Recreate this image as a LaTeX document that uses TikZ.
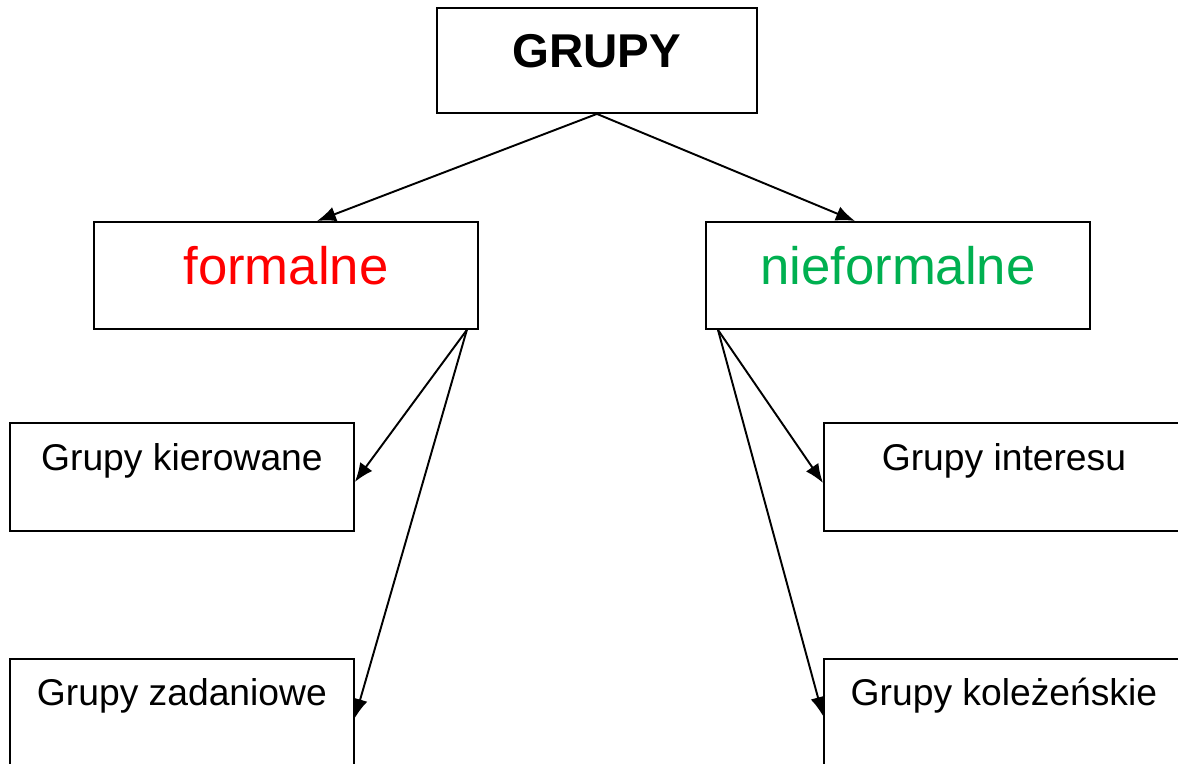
\documentclass[tikz,border=0pt]{standalone}
\usepackage{fontspec}
\setmainfont{Liberation Sans}
\usetikzlibrary{arrows.meta}
\definecolor{zielony}{RGB}{0,176,80}

\begin{document}
\begin{tikzpicture}[x=0.02cm, y=-0.02cm, line width=1.1pt,
	box/.style={draw, inner sep=0pt, anchor=north west, align=center},
	>={Latex[length=0.38cm, width=0.3cm]}]
	\clip (0, 0) rectangle (1178, 764);
	% gora
	\node[box, minimum width=6.4cm, text height=1.2cm, text depth=0.9cm, font=\fontsize{27}{30}\selectfont\bfseries] (grupy) at (436, 7) {GRUPY};
	% srodek
	\node[box, minimum width=7.68cm, text height=1.26cm, text depth=0.88cm, font=\fontsize{30}{34}\selectfont, text=red] (formalne) at (93, 221) {formalne};
	\node[box, minimum width=7.68cm, text height=1.26cm, text depth=0.88cm, font=\fontsize{30}{34}\selectfont, text=zielony] (nieformalne) at (705, 221) {nieformalne};
	% dol
	\node[box, minimum width=6.88cm, text height=0.96cm, text depth=1.2cm, font=\fontsize{21.2}{24}\selectfont] (kierowane) at (9, 422) {Grupy kierowane};
	\node[box, minimum width=7.2cm, text height=0.96cm, text depth=1.2cm, font=\fontsize{21.2}{24}\selectfont] (interesu) at (823, 422) {Grupy interesu};
	\node[box, minimum width=6.88cm, text height=0.94cm, text depth=1.22cm, font=\fontsize{21.2}{24}\selectfont] (zadaniowe) at (9, 658) {Grupy zadaniowe};
	\node[box, minimum width=7.2cm, text height=0.94cm, text depth=1.22cm, font=\fontsize{21.2}{24}\selectfont] (kolezenskie) at (823, 658) {Grupy koleżeńskie};
	% strzalki
	\draw[->] (grupy.south) -- ([xshift=4.48cm]formalne.north west);
	\draw[->] (grupy.south) -- ([xshift=3cm]nieformalne.north west);
	\draw[->] ([xshift=-0.24cm]formalne.south east) -- ([yshift=-0.1cm]kierowane.east);
	\draw[->] ([xshift=-0.24cm]formalne.south east) -- ([yshift=-0.1cm]zadaniowe.east);
	\draw[->] ([xshift=0.26cm]nieformalne.south west) -- ([yshift=-0.12cm]interesu.west);
	\draw[->] ([xshift=0.26cm]nieformalne.south west) -- ([yshift=-0.06cm]kolezenskie.west);
\end{tikzpicture}
\end{document}
